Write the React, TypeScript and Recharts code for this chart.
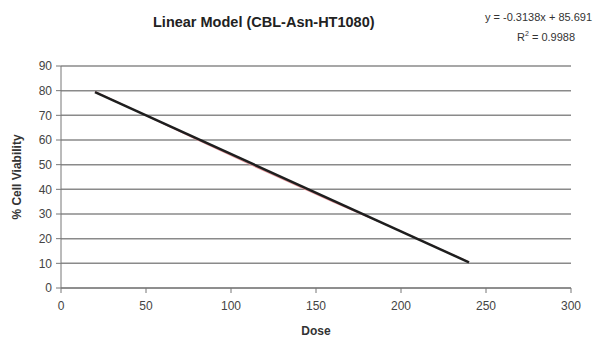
import React from 'react';
import { LineChart, Line, XAxis, YAxis, CartesianGrid } from 'recharts';

// measured viability per dose
const doses = [20, 40, 80, 120, 160, 200, 240];
const viability = [79.6, 73.2, 60.1, 47.3, 34.9, 23.0, 10.5];

// fitted trendline end points, as drawn
const trendDoses = [20, 240];
const trendValues = [79.4, 10.4];

const xTicks = [0, 50, 100, 150, 200, 250, 300];
const yTicks = [0, 10, 20, 30, 40, 50, 60, 70, 80, 90];

const measured = doses.map((d, i) => ({ dose: d, v: viability[i] }));
const trend = trendDoses.map((d, i) => ({ dose: d, fit: trendValues[i] }));

const font = '"Liberation Sans", Arial, sans-serif';

const App = () => {
  return (
    <div style={{ position: 'absolute', left: 0, top: 0, width: 595, height: 339, background: '#fff', fontFamily: font }}>
      <div style={{ position: 'absolute', left: 153, top: 14, fontSize: 14.5, fontWeight: 'bold', color: '#222', whiteSpace: 'nowrap' }}>
        Linear Model (CBL-Asn-HT1080)
      </div>
      <div style={{ position: 'absolute', left: 485, top: 11, fontSize: 11, color: '#333', whiteSpace: 'nowrap' }}>
        y = -0.3138x + 85.691
      </div>
      <div style={{ position: 'absolute', left: 517, top: 30, fontSize: 11, color: '#333', whiteSpace: 'nowrap' }}>
        R<sup style={{ fontSize: 7 }}>2</sup> = 0.9988
      </div>
      <LineChart
        width={595}
        height={339}
        margin={{ top: 66, right: 24, bottom: 21, left: 21 }}
        style={{ position: 'absolute', left: 0, top: 0 }}
      >
        <CartesianGrid horizontal vertical={false} stroke="#8a8a8a" strokeWidth={1.5} />
        <XAxis
          type="number"
          dataKey="dose"
          domain={[0, 300]}
          ticks={xTicks}
          height={30}
          stroke="#777"
          tick={{ fill: '#444', fontSize: 12, fontFamily: font }}
          tickSize={5}
          tickMargin={8}
          label={{ value: 'Dose', position: 'bottom', offset: 8, fill: '#333', fontSize: 12, fontWeight: 'bold', fontFamily: font }}
        />
        <YAxis
          type="number"
          domain={[0, 90]}
          ticks={yTicks}
          width={40}
          stroke="#777"
          tick={{ fill: '#444', fontSize: 12, fontFamily: font }}
          tickSize={5}
          tickMargin={4}
          label={{ value: '% Cell Viability', angle: -90, position: 'insideLeft', offset: -4, fill: '#333', fontSize: 12, fontWeight: 'bold', fontFamily: font, style: { textAnchor: 'middle' } }}
        />
        <Line
          data={measured}
          dataKey="v"
          type="linear"
          stroke="#e8969a"
          strokeWidth={1.2}
          dot={false}
          isAnimationActive={false}
        />
        <Line
          data={trend}
          dataKey="fit"
          type="linear"
          stroke="#1e1e1e"
          strokeWidth={2.5}
          dot={false}
          isAnimationActive={false}
        />
      </LineChart>
    </div>
  );
};

export default App;
